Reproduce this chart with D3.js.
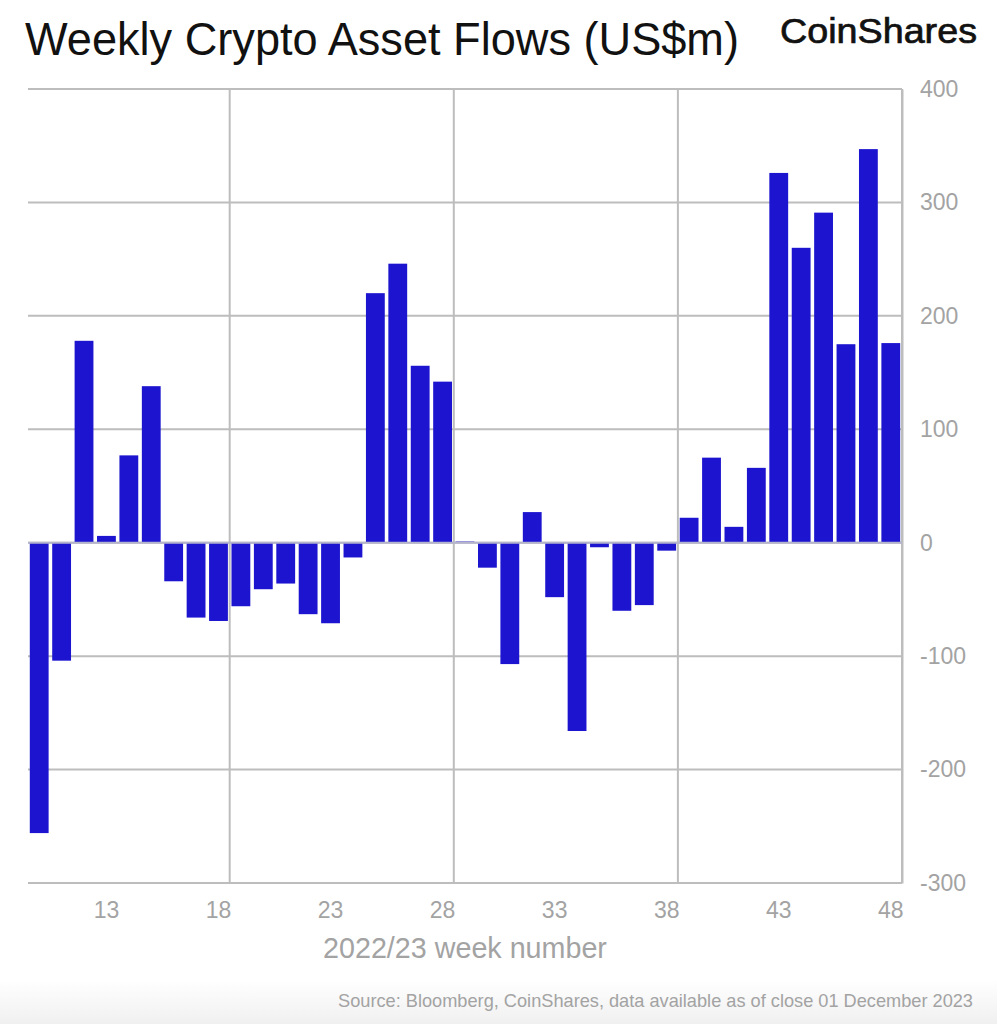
<!DOCTYPE html>
<html>
<head>
<meta charset="utf-8">
<script src="https://d3js.org/d3.v7.min.js"></script>
<style>
  html, body { margin: 0; padding: 0; background: #fff; }
  svg { display: block; }
  text { font-family: "Liberation Sans", Arial, sans-serif; }
</style>
</head>
<body>
<script>
var weeks = [10, 11, 12, 13, 14, 15, 16, 17, 18, 19, 20, 21, 22, 23, 24, 25, 26, 27, 28,
             29, 30, 31, 32, 33, 34, 35, 36, 37, 38, 39, 40, 41, 42, 43, 44, 45, 46, 47, 48];
var flows = [-256, -104, 178, 6, 77, 138, -34, -66, -69, -56, -41, -36, -63, -71, -13, 220, 246, 156, 142,
             1, -22, -107, 27, -48, -166, -4, -60, -55, -7, 22, 75, 14, 66, 326, 260, 291, 175, 347, 176];
var weekLabels = [13, 18, 23, 28, 33, 38, 43, 48];
var gridWeeks = [18, 28, 38, 48];
var valueTicks = [400, 300, 200, 100, 0, -100, -200, -300];

var svgWidth = 997;
var svgHeight = 1024;
var margin = { top: 89, right: 95, bottom: 141, left: 28 };
var width = svgWidth - margin.left - margin.right;
var height = svgHeight - margin.top - margin.bottom;

var svg = d3.select("body")
            .append("svg")
            .attr("width", svgWidth)
            .attr("height", svgHeight);

// faint grey fade along the bottom of the screenshot
var fade = svg.append("defs").append("linearGradient")
              .attr("id", "fade")
              .attr("x1", 0).attr("x2", 0).attr("y1", 0).attr("y2", 1);
fade.append("stop").attr("offset", "0%").attr("stop-color", "#ffffff");
fade.append("stop").attr("offset", "100%").attr("stop-color", "#f0f0f0");
svg.append("rect")
   .attr("x", 0).attr("y", 980)
   .attr("width", svgWidth).attr("height", 44)
   .attr("fill", "url(#fade)");

var chartGroup = svg.append("g")
                    .attr("transform", `translate(${margin.left}, ${margin.top})`);

var xScale = d3.scaleBand()
               .domain(weeks)
               .range([0, width])
               .paddingInner(0.16)
               .paddingOuter(0.08);

var yScale = d3.scaleLinear()
               .domain([-300, 400])
               .range([height, 0]);

// Horizontal gridlines, right hand value labels
var yAxis = d3.axisRight(yScale)
              .tickValues(valueTicks)
              .tickSize(0)
              .tickPadding(18)
              .tickFormat(d => String(d));

var yGroup = chartGroup.append("g")
                       .attr("transform", `translate(${width}, 0)`)
                       .call(yAxis);
yGroup.select(".domain").attr("stroke", "#bdbdbd").attr("stroke-width", 2);
yGroup.selectAll("text")
      .attr("fill", "#a3a3a3")
      .attr("font-size", 23)
      .style("font-family", "'Liberation Sans', Arial, sans-serif");

chartGroup.selectAll(".h-grid")
          .data(valueTicks)
          .enter()
          .append("line")
          .attr("class", "h-grid")
          .attr("x1", 0)
          .attr("x2", width)
          .attr("y1", d => yScale(d))
          .attr("y2", d => yScale(d))
          .attr("stroke", "#bdbdbd")
          .attr("stroke-width", 2);

// Vertical gridlines sit on the right edge of every tenth week
var step = xScale.step();
chartGroup.selectAll(".v-grid")
          .data(gridWeeks)
          .enter()
          .append("line")
          .attr("class", "v-grid")
          .attr("x1", d => xScale(d) + xScale.bandwidth() / 2 + step / 2)
          .attr("x2", d => xScale(d) + xScale.bandwidth() / 2 + step / 2)
          .attr("y1", 0)
          .attr("y2", height)
          .attr("stroke", "#bdbdbd")
          .attr("stroke-width", 2);

var xAxis = d3.axisBottom(xScale)
              .tickValues(weekLabels)
              .tickSize(0)
              .tickPadding(19);

var xGroup = chartGroup.append("g")
                       .attr("transform", `translate(0, ${height})`)
                       .call(xAxis);
xGroup.select(".domain").remove();
xGroup.selectAll("text")
      .attr("fill", "#a3a3a3")
      .attr("font-size", 23)
      .style("font-family", "'Liberation Sans', Arial, sans-serif");

chartGroup.selectAll(".bar")
          .data(flows)
          .enter()
          .append("rect")
          .attr("class", "bar")
          .attr("x", (d, i) => xScale(weeks[i]))
          .attr("y", d => yScale(Math.max(0, d)))
          .attr("width", xScale.bandwidth())
          .attr("height", d => Math.abs(yScale(d) - yScale(0)))
          .attr("fill", "#1c14cf");

// zero line runs over the feet of the bars
chartGroup.append("line")
          .attr("x1", 0)
          .attr("x2", width)
          .attr("y1", yScale(0))
          .attr("y2", yScale(0))
          .attr("stroke", "#b4b4cc")
          .attr("stroke-width", 2);

// Titles and captions
svg.append("text")
   .attr("x", 25)
   .attr("y", 55)
   .attr("font-size", 46)
   .attr("fill", "#111111")
   .attr("textLength", 714)
   .attr("lengthAdjust", "spacingAndGlyphs")
   .text("Weekly Crypto Asset Flows (US$m)");

svg.append("text")
   .attr("x", 780)
   .attr("y", 43)
   .attr("font-size", 35)
   .attr("fill", "#111111")
   .attr("stroke", "#111111")
   .attr("stroke-width", 0.7)
   .attr("textLength", 197)
   .attr("lengthAdjust", "spacingAndGlyphs")
   .text("CoinShares");

svg.append("text")
   .attr("x", 465)
   .attr("y", 958)
   .attr("text-anchor", "middle")
   .attr("font-size", 28.7)
   .attr("fill", "#a3a3a3")
   .text("2022/23 week number");

svg.append("text")
   .attr("x", 973)
   .attr("y", 1007)
   .attr("text-anchor", "end")
   .attr("font-size", 18.2)
   .attr("fill", "#a3a3a3")
   .text("Source: Bloomberg, CoinShares, data available as of close 01 December 2023");
</script>
</body>
</html>
